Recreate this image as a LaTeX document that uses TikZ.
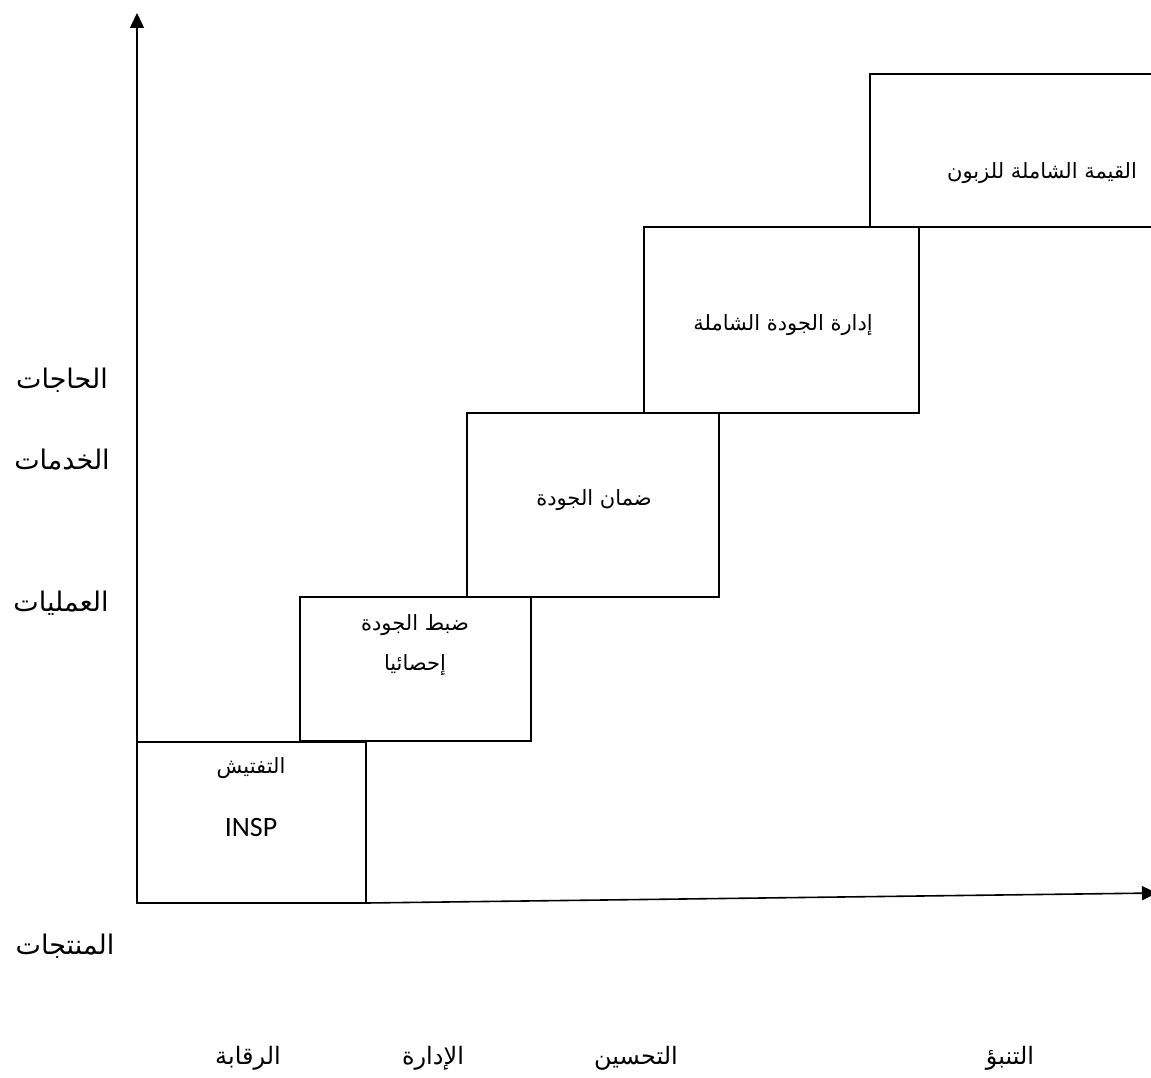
\documentclass[tikz,border=0pt]{standalone}
\usepackage{fontspec}
\setmainfont{Liberation Sans}
\newfontfamily\arabicfont[Script=Arabic]{DejaVu Sans}
\newfontfamily\boxlatin{Carlito}
\TeXXeTstate=1
\usetikzlibrary{arrows.meta}

\begin{document}
\begin{tikzpicture}[x=1pt,y=-1pt,
  stage/.style={draw, line width=1.6pt, inner sep=0pt, outer sep=0pt, anchor=north west},
  axis/.style={line width=1.6pt, -{Triangle[length=15pt,width=14pt]}},
  boxtxt/.style={inner sep=0pt, font=\arabicfont\fontsize{21}{25}\selectfont},
  sidetxt/.style={inner sep=0pt, font=\arabicfont\fontsize{27}{32}\selectfont},
  bottxt/.style={inner sep=0pt, font=\arabicfont\fontsize{24}{28}\selectfont}]
\useasboundingbox (0,0) rectangle (1151,1078);
\fill[white] (0,0) rectangle (1151,1078);

% staircase of quality stages
\node[stage, minimum width=229pt, minimum height=161pt] (insp) at (137,742) {};
\node[stage, minimum width=231pt, minimum height=144pt] (spc)  at (300,597) {};
\node[stage, minimum width=252pt, minimum height=184pt] (qa)   at (467,413) {};
\node[stage, minimum width=275pt, minimum height=186pt] (tqm)  at (644,227) {};
\node[stage, minimum width=340pt, minimum height=153pt] (tcv)  at (870,74)  {};

% axes
\coordinate (ytip) at (137,13);
\coordinate (xtip) at (1157,893);
\draw[axis] (insp.south west) -- (ytip);
\draw[axis] (insp.south east) -- (xtip);

% stage labels (each line set right to left)
\node[boxtxt] (t1a) at (251,768) {\beginR التفتيش\endR};
\node[boxtxt, font=\boxlatin\fontsize{28}{32}\selectfont] (t1b) at (251,828) {INSP};
\node[boxtxt] (t2a) at (415,625) {\beginR ضبط الجودة\endR};
\node[boxtxt] (t2b) at (415,665) {\beginR إحصائيا\endR};
\node[boxtxt] (t3)  at (594,500) {\beginR ضمان الجودة\endR};
\node[boxtxt] (t4)  at (783,325) {\beginR إدارة الجودة الشاملة\endR};
\node[boxtxt] (t5)  at (1042,173) {\beginR القيمة الشاملة للزبون\endR};

% vertical scale labels
\node[sidetxt] (lneeds) at (62,380) {\beginR الحاجات\endR};
\node[sidetxt] (lserv)  at (62,460) {\beginR الخدمات\endR};
\node[sidetxt] (lproc)  at (61,603) {\beginR العمليات\endR};
\node[sidetxt] (lprod)  at (65,946) {\beginR المنتجات\endR};

% horizontal scale labels
\node[bottxt] (lpred) at (1010,1058) {\beginR التنبؤ\endR};
\node[bottxt] (limpr) at (636,1058)  {\beginR التحسين\endR};
\node[bottxt] (lmgmt) at (433,1058)  {\beginR الإدارة\endR};
\node[bottxt] (lctrl) at (248,1058)  {\beginR الرقابة\endR};
\end{tikzpicture}
\end{document}
